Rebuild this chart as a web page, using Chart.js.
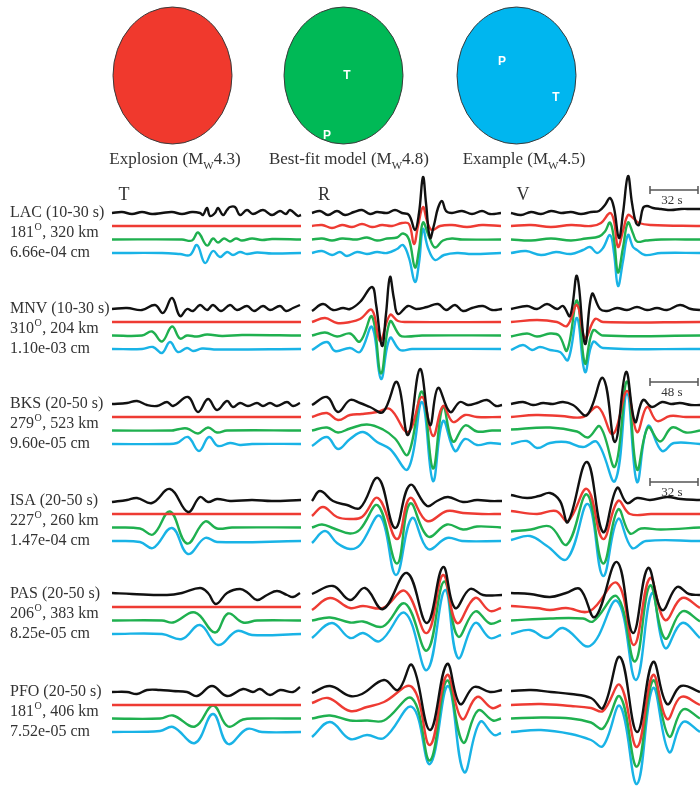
<!DOCTYPE html>
<html>
<head>
<meta charset="utf-8">
<script src="https://cdn.jsdelivr.net/npm/chart.js@4.4.1/dist/chart.umd.min.js"></script>
<style>
  html, body { margin: 0; padding: 0; background: #fff; }
  #wrap { width: 700px; height: 787px; }
</style>
</head>
<body>
<div id="wrap"><canvas id="seisChart" width="700" height="787"></canvas></div>
<script>
// ---- categories / labels ----
const stations = ['LAC', 'MNV', 'BKS', 'ISA', 'PAS', 'PFO'];
const bands = ['10-30 s', '10-30 s', '20-50 s', '20-50 s', '20-50 s', '20-50 s'];
const azimuths = [181, 310, 279, 227, 206, 181];
const distances = [320, 204, 523, 260, 383, 406];
const peakAmps = ['6.66e-04', '1.10e-03', '9.60e-05', '1.47e-04', '8.25e-05', '7.52e-05'];
const components = ['T', 'R', 'V'];
const modelNames = ['Explosion', 'Best-fit model', 'Example'];
const magnitudes = ['4.3', '4.8', '4.5'];
const scaleBarLabels = ['32 s', '48 s', '32 s'];

// ---- waveforms: [time sample, amplitude], order = observed, explosion, best-fit, example ----
const LAC_T = [
  [[0,0],[10,1],[20,-1],[30,1],[40,-1],[50,0],[60,1],[70,-1],[80,1],[88,0],[91,-2],[95,5],[98,-3],[103,0],[106,5],[111,-2],[115,3],[118,6],[123,6],[128,-2],[135,3],[141,-1],[151,3],[160,-2],[168,2],[174,-1],[178,3],[186,-3],[189,-2]],
  [[0,0],[189,0]],
  [[0,0],[70,0],[80,-1],[86,7],[95,-6],[101,1],[106,-3],[112,1],[118,-2],[124,1],[130,-1],[140,1],[150,-0.5],[160,0.5],[189,0]],
  [[0,0],[50,0],[68,-1],[78,-2],[85,8],[93,-10],[101,2],[108,-4],[115,1],[121,-2],[128,1],[135,-1],[145,0.5],[160,-0.5],[189,0]]
];
const LAC_R = [
  [[0,0],[8,2],[16,-2],[25,2],[33,-2],[42,1],[50,3],[58,-1],[65,1],[75,0],[83,3],[90,0],[97,-2],[103,-17],[107,0],[111,36],[114,10],[118,-25],[122,-12],[126,5],[130,12],[134,2],[140,0],[150,2],[160,-1],[170,2],[178,-1],[189,0]],
  [[0,0],[10,1],[20,-2],[30,1],[40,-1],[50,2],[60,-1],[70,1],[80,0],[90,3],[97,2],[102,-18],[106,0],[111,19],[115,5],[120,-4],[128,0],[140,1],[155,-1],[170,1],[189,0]],
  [[0,0],[10,1],[20,-1],[30,1],[45,0],[55,2],[65,-1],[75,1],[85,2],[91,6],[97,0],[103,-28],[107,-10],[111,17],[117,3],[123,-8],[131,-1],[140,1],[150,0],[189,0]],
  [[0,0],[10,2],[20,-2],[28,1],[35,-3],[45,1],[55,-1],[65,1],[75,0],[85,4],[91,8],[97,-5],[103,-29],[107,-10],[111,24],[116,5],[123,-7],[132,-2],[145,0],[160,-1],[189,0]]
];
const LAC_V = [
  [[0,0],[10,-2],[20,1],[30,-1],[40,2],[50,0],[60,1],[70,-1],[80,1],[88,2],[94,8],[99,15],[103,5],[108,-25],[112,0],[117,37],[121,10],[125,-10],[128,-12],[132,5],[136,7],[142,5],[150,4],[160,3],[170,4],[180,4],[189,4]],
  [[0,0],[20,1],[40,-1],[60,1],[80,0],[90,3],[99,13],[103,5],[107,-21],[112,-5],[117,11],[122,8],[128,3],[140,1],[189,0]],
  [[0,0],[20,-1],[40,1],[60,-1],[75,1],[88,3],[94,8],[99,17],[103,0],[107,-33],[112,-8],[117,17],[122,6],[126,-2],[135,-1],[150,0],[189,0]],
  [[0,0],[15,2],[30,-2],[45,1],[60,-1],[72,3],[79,6],[86,0],[92,5],[99,18],[103,0],[107,-33],[112,-8],[117,18],[122,6],[126,3],[134,-2],[150,0],[189,0]]
];
const MNV_T = [
  [[0,0],[15,1],[30,-1],[43,4],[51,-4],[60,11],[68,-7],[75,0],[81,-2],[88,4],[95,-1],[101,4],[109,-2],[118,4],[125,-1],[135,3],[142,-2],[151,3],[158,-1],[168,3],[174,-2],[181,1],[188,4]],
  [[0,0],[189,0]],
  [[0,0],[30,0],[40,4],[50,-6],[60,9],[68,-3],[75,0],[85,-1],[95,1],[110,-0.5],[130,0.5],[189,0]],
  [[0,0],[30,0],[41,2],[50,-4],[58,7],[66,-3],[75,1],[81,-2],[90,0.5],[105,-0.5],[189,0]]
];
const MNV_R = [
  [[0,-2],[11,5],[21,-1],[31,1],[38,0],[48,7],[60,22],[64,5],[70,-37],[74,-5],[78,32],[82,10],[86,-5],[96,3],[104,0],[115,2],[126,5],[134,-1],[143,4],[151,-2],[160,1],[171,3],[180,-1],[190,0]],
  [[0,0],[13,4],[25,-1],[38,0],[48,3],[60,12],[68,-19],[78,7],[86,1],[95,0],[189,0]],
  [[0,0],[13,3],[25,-1],[38,2],[48,-6],[60,19],[69,-38],[78,14],[88,0],[96,-1],[110,0],[189,0]],
  [[0,-1],[15,7],[23,-2],[38,1],[48,-3],[60,22],[69,-30],[78,11],[88,-1],[100,0],[189,0]]
];
const MNV_V = [
  [[0,0],[16,3],[26,0],[36,5],[46,0],[52,3],[59,-7],[66,33],[74,-35],[81,15],[89,0],[96,-2],[106,1],[116,-1],[126,2],[136,-1],[146,1],[156,-1],[169,4],[180,0],[189,-1]],
  [[0,0],[26,2],[46,0],[56,-4],[66,17],[74,-16],[84,3],[92,0],[189,0]],
  [[0,-1],[16,2],[26,-1],[39,2],[48,0],[56,-15],[66,35],[74,-28],[82,5],[92,0],[189,0]],
  [[0,-1],[12,4],[21,-1],[29,2],[39,-1],[49,-3],[57,-11],[66,31],[74,-23],[82,7],[92,1],[189,0]]
];
const BKS_T = [
  [[0,0],[15,1],[25,3],[35,-1],[45,-2],[55,2],[61,-2],[76,7],[86,-8],[96,5],[105,-6],[115,3],[121,-3],[128,1],[136,-2],[145,1],[151,-2],[158,1],[165,-2],[175,2],[181,-2],[188,1]],
  [[0,0],[189,0]],
  [[0,0],[60,0],[65,1],[75,2],[86,-3],[96,3],[105,-2],[115,0],[189,0]],
  [[0,0],[55,0],[65,1],[76,7],[87,-7],[97,7],[106,-2],[118,1],[128,-1],[140,0],[189,0]]
];
const BKS_R = [
  [[0,-1],[15,7],[26,-8],[38,4],[48,1],[58,-3],[71,-8],[85,22],[96,-31],[108,35],[118,-21],[126,16],[138,-8],[148,2],[156,-1],[165,1],[175,4],[184,-2],[190,-1]],
  [[0,0],[15,4],[26,-3],[38,2],[50,3],[65,5],[78,8],[96,-15],[110,20],[121,-19],[131,11],[141,-5],[153,2],[165,0],[189,0]],
  [[0,0],[15,3],[26,-2],[38,2],[55,6],[71,1],[83,-8],[96,-24],[110,39],[121,-38],[131,24],[141,-11],[153,5],[165,-1],[180,0],[189,0]],
  [[0,-2],[15,7],[26,-5],[38,5],[51,12],[65,2],[78,-5],[96,-25],[110,42],[121,-37],[131,23],[143,-7],[153,5],[165,-1],[178,1],[189,0]]
];
const BKS_V = [
  [[0,0],[12,2],[22,-1],[32,1],[42,0],[52,2],[62,-1],[76,-11],[92,26],[104,-38],[115,32],[124,-18],[132,4],[141,-3],[151,2],[160,0],[169,1],[180,-1],[189,-1]],
  [[0,0],[25,2],[50,1],[72,0],[87,10],[102,-17],[116,26],[126,-15],[136,10],[146,-4],[159,1],[175,0],[189,0]],
  [[0,1],[39,3],[66,-1],[77,-7],[89,4],[104,-36],[116,49],[126,-39],[137,3],[149,-11],[161,3],[175,-2],[189,0]],
  [[0,0],[16,3],[26,-4],[39,1],[55,2],[72,-3],[86,2],[104,-37],[116,50],[126,-38],[137,18],[151,-7],[163,1],[189,0]]
];
const ISA_T = [
  [[0,-1],[15,1],[25,3],[40,-2],[58,12],[76,-11],[88,4],[96,-1],[105,2],[118,0],[140,1],[160,0],[189,1]],
  [[0,0],[189,0]],
  [[0,0],[28,-1],[41,-7],[58,16],[75,-16],[93,6],[105,-1],[120,0],[189,0]],
  [[0,0],[28,-1],[41,-7],[60,13],[76,-13],[93,3],[105,-1],[189,0]]
];
const ISA_R = [
  [[0,0],[8,10],[21,0],[35,-4],[48,-7],[66,23],[83,-27],[98,16],[115,-5],[125,0],[136,4],[151,-1],[165,1],[178,0],[190,0]],
  [[0,-2],[11,7],[25,-3],[38,-5],[50,-3],[66,16],[85,-25],[98,16],[115,-7],[135,3],[151,1],[170,0],[189,0]],
  [[0,0],[10,3],[22,-1],[38,-6],[48,-2],[66,22],[85,-36],[98,24],[116,-9],[135,3],[151,-2],[165,1],[189,0]],
  [[0,-2],[13,10],[25,-2],[38,-8],[48,-4],[68,25],[84,-34],[100,23],[116,-8],[135,3],[150,0],[189,0]]
];
const ISA_V = [
  [[0,6],[16,3],[28,5],[39,8],[49,0],[57,-21],[76,39],[92,-31],[106,13],[116,-2],[126,3],[139,1],[156,4],[170,2],[189,1]],
  [[0,3],[26,0],[45,3],[57,-7],[76,25],[92,-25],[107,13],[119,0],[140,0],[189,0]],
  [[0,-4],[20,-2],[39,1],[56,-17],[76,33],[92,-36],[107,18],[119,-6],[130,-1],[150,-2],[189,0]],
  [[0,1],[19,5],[36,-5],[56,-18],[77,37],[92,-35],[107,22],[121,-7],[135,0],[189,0]]
];
const PAS_T = [
  [[0,1],[20,0],[55,-1],[70,1],[88,6],[96,1],[104,-10],[115,1],[128,5],[136,1],[145,-6],[155,-1],[165,3],[175,-1],[181,-3],[188,1]],
  [[0,0],[189,0]],
  [[0,0],[50,0],[61,-2],[83,8],[103,-12],[116,7],[131,-2],[145,0],[189,0]],
  [[0,0],[50,0],[70,-5],[88,9],[106,-11],[125,3],[140,-1],[189,0]]
];
const PAS_R = [
  [[0,0],[21,8],[38,-6],[53,6],[71,-15],[95,21],[115,-29],[131,27],[143,-14],[158,5],[171,-1],[190,-1]],
  [[0,-3],[18,9],[38,-1],[51,1],[71,-1],[93,16],[115,-26],[131,32],[145,-16],[163,9],[178,-4],[189,-1]],
  [[0,0],[18,3],[38,-2],[51,-1],[71,-6],[93,17],[115,-30],[132,39],[146,-16],[163,9],[178,-3],[189,0]],
  [[0,-4],[20,11],[38,-4],[51,1],[68,-7],[93,21],[115,-36],[133,44],[146,-24],[163,11],[178,-4],[189,-1]]
];
const PAS_V = [
  [[0,1],[19,0],[39,-3],[55,1],[69,5],[84,-23],[106,32],[122,-39],[137,26],[151,-16],[166,7],[178,0],[189,-1]],
  [[0,1],[26,-1],[39,-3],[55,-1],[79,-4],[106,24],[123,-38],[139,29],[154,-13],[171,9],[189,-1]],
  [[0,0],[39,2],[72,2],[82,-1],[106,24],[124,-41],[139,35],[154,-18],[171,9],[189,-1]],
  [[0,0],[19,4],[36,-4],[52,6],[79,-12],[106,33],[125,-46],[141,41],[154,-14],[171,11],[189,-4]]
];
const PFO_T = [
  [[0,0],[15,0],[25,-2],[35,2],[48,2],[61,1],[75,0],[85,-4],[100,6],[115,-4],[131,3],[141,0],[148,3],[158,-3],[168,2],[181,0],[188,5]],
  [[0,0],[189,0]],
  [[0,0],[48,0],[61,3],[83,-8],[101,13],[116,-8],[131,-1],[145,0],[189,0]],
  [[0,0],[48,1],[61,5],[83,-11],[101,18],[116,-12],[135,3],[150,0],[189,0]]
];
const PFO_R = [
  [[0,-1],[18,6],[38,-4],[50,-2],[72,12],[86,2],[100,27],[118,-38],[135,28],[148,-12],[162,5],[178,0],[190,2]],
  [[0,2],[16,7],[38,-6],[55,-2],[72,3],[100,18],[118,-40],[135,30],[150,-14],[165,8],[180,-3],[189,0]],
  [[0,0],[18,3],[38,-2],[55,-2],[72,-2],[100,20],[118,-42],[135,38],[151,-24],[166,8],[181,-2],[189,0]],
  [[0,-5],[18,10],[38,-7],[55,-3],[72,-6],[100,25],[118,-32],[136,46],[152,-40],[168,10],[182,-3],[189,-1]]
];
const PFO_V = [
  [[0,1],[20,2],[40,0],[60,-2],[80,-6],[92,-16],[109,35],[126,-40],[142,30],[156,-12],[170,6],[189,0]],
  [[0,0],[30,1],[60,-1],[80,-3],[92,-6],[109,20],[126,-42],[142,30],[156,-14],[170,8],[189,0]],
  [[0,0],[30,1],[60,0],[80,-4],[92,-10],[109,22],[126,-48],[142,38],[158,-18],[172,9],[189,0]],
  [[0,0],[30,2],[60,-2],[80,-8],[92,-14],[109,26],[126,-52],[142,44],[158,-20],[172,10],[189,0]]
];

const panels = [
  [LAC_T, LAC_R, LAC_V],
  [MNV_T, MNV_R, MNV_V],
  [BKS_T, BKS_R, BKS_V],
  [ISA_T, ISA_R, ISA_V],
  [PAS_T, PAS_R, PAS_V],
  [PFO_T, PFO_R, PFO_V]
];

// ---- layout / style ----
const traceColors = ['#111111', '#ee3b33', '#1fb04f', '#19b3e6'];
const ballColors = ['#f0392d', '#00b956', '#00b6ef'];
const panelX = [112, 312, 511];
const rowY = [213, 309, 404, 501, 594, 692];
const traceGap = [0, 13, 26.5, 40];
const ballX = [172.5, 343.5, 516.5];
const titleX = [175, 349, 524];
const scaleBarY = [190, 382, 482];
const serif = '"Liberation Serif", "DejaVu Serif", serif';
const textColor = '#333333';

const datasets = [];
panels.forEach(function(row, r) {
  row.forEach(function(traces, c) {
    traces.forEach(function(trace, k) {
      datasets.push({
        label: stations[r] + ' ' + components[c] + ' ' + k,
        data: trace.map(function(p) {
          return { x: panelX[c] + p[0], y: rowY[r] + traceGap[k] - p[1] };
        }),
        showLine: true,
        borderColor: traceColors[k],
        borderWidth: 2.4,
        pointRadius: 0,
        tension: 0.4,
        order: k
      });
    });
  });
});

// beach balls, titles, station labels, scale bars
const decorations = {
  id: 'decorations',
  beforeDatasetsDraw(chart) {
    const ctx = chart.ctx;
    const sx = chart.scales.x, sy = chart.scales.y;
    ctx.save();
    ballColors.forEach(function(col, i) {
      ctx.beginPath();
      ctx.ellipse(sx.getPixelForValue(ballX[i]), sy.getPixelForValue(75.5), 59.5, 68.5, 0, 0, Math.PI * 2);
      ctx.fillStyle = col;
      ctx.fill();
      ctx.lineWidth = 1;
      ctx.strokeStyle = '#3a3a3a';
      ctx.stroke();
    });
    ctx.fillStyle = '#ffffff';
    ctx.font = 'bold 12px "Liberation Sans", Arial, sans-serif';
    ctx.textAlign = 'center';
    ctx.textBaseline = 'middle';
    ctx.fillText('T', 347, 76);
    ctx.fillText('P', 327, 136);
    ctx.fillText('P', 502, 62);
    ctx.fillText('T', 556, 98);
    ctx.restore();
  },
  afterDatasetsDraw(chart) {
    const ctx = chart.ctx;
    ctx.save();
    ctx.fillStyle = textColor;
    ctx.textBaseline = 'middle';

    // model titles with subscript W
    modelNames.forEach(function(name, i) {
      const a = name + ' (M', b = 'W', c = magnitudes[i] + ')';
      ctx.font = '17px ' + serif;
      const wa = ctx.measureText(a).width, wc = ctx.measureText(c).width;
      ctx.font = '11px ' + serif;
      const wb = ctx.measureText(b).width;
      let x = titleX[i] - (wa + wb + wc) / 2;
      ctx.textAlign = 'left';
      ctx.font = '17px ' + serif;
      ctx.fillText(a, x, 160);
      x += wa;
      ctx.font = '11px ' + serif;
      ctx.fillText(b, x, 166);
      x += wb;
      ctx.font = '17px ' + serif;
      ctx.fillText(c, x, 160);
    });

    // component letters
    ctx.font = '18px ' + serif;
    ctx.textAlign = 'center';
    components.forEach(function(comp, c) {
      ctx.fillText(comp, panelX[c] + 12, 195);
    });

    // station labels
    ctx.textAlign = 'left';
    stations.forEach(function(st, r) {
      const y = rowY[r];
      ctx.font = '16px ' + serif;
      ctx.fillText(st + ' (' + bands[r] + ')', 10, y);
      const az = String(azimuths[r]);
      ctx.fillText(az, 10, y + 19.5);
      let x = 10 + ctx.measureText(az).width;
      ctx.font = '10px ' + serif;
      ctx.fillText('O', x + 0.5, y + 14.5);
      x += ctx.measureText('O').width + 1;
      ctx.font = '16px ' + serif;
      ctx.fillText(', ' + distances[r] + ' km', x, y + 19.5);
      ctx.fillText(peakAmps[r] + ' cm', 10, y + 39.5);
    });

    // time scale bars
    ctx.strokeStyle = '#555555';
    ctx.lineWidth = 1.5;
    ctx.font = '13px ' + serif;
    ctx.textAlign = 'center';
    scaleBarLabels.forEach(function(lab, i) {
      const y = scaleBarY[i];
      ctx.beginPath();
      ctx.moveTo(650, y); ctx.lineTo(698, y);
      ctx.moveTo(650, y - 4); ctx.lineTo(650, y + 4);
      ctx.moveTo(698, y - 4); ctx.lineTo(698, y + 4);
      ctx.stroke();
      ctx.fillText(lab, 672, y + 11);
    });
    ctx.restore();
  }
};

new Chart(document.getElementById('seisChart').getContext('2d'), {
  type: 'scatter',
  data: { datasets: datasets },
  options: {
    responsive: false,
    animation: false,
    layout: { padding: 0 },
    scales: {
      x: { type: 'linear', min: 0, max: 700, display: false },
      y: { type: 'linear', min: 0, max: 787, reverse: true, display: false }
    },
    plugins: {
      legend: { display: false },
      tooltip: { enabled: false }
    }
  },
  plugins: [decorations]
});
</script>
</body>
</html>
